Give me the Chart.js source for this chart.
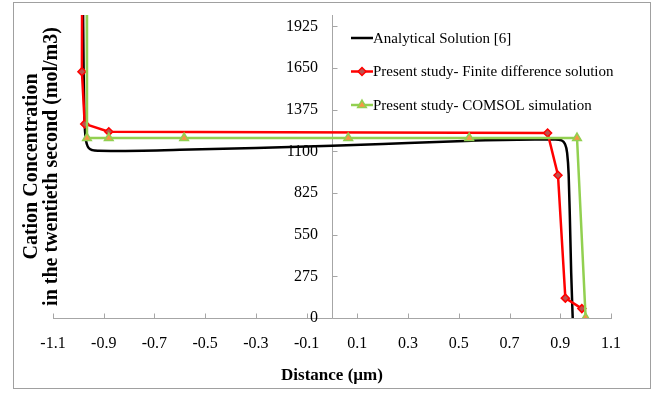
<!DOCTYPE html>
<html>
<head>
<meta charset="utf-8">
<script src="https://cdn.jsdelivr.net/npm/chart.js@4.4.1/dist/chart.umd.min.js"></script>
<style>
  html,body{margin:0;padding:0;background:#fff;}
  #wrap{position:relative;width:654px;height:394px;}
</style>
</head>
<body>
<div id="wrap"><canvas id="chart" width="654" height="394"></canvas></div>
<script>
// Data
const xTicks=[-1.1,-0.9,-0.7,-0.5,-0.3,-0.1,0.1,0.3,0.5,0.7,0.9,1.1];
const yTicks=[0,275,550,825,1100,1375,1650,1925];

const analyticalX=[-0.982,-0.979,-0.976,-0.972,-0.966,-0.958,-0.945,-0.92,-0.85,-0.6,-0.3,0,0.3,0.55,0.8,0.88,0.905,0.918,0.927,0.933,0.938,0.943,0.949];
const analyticalY=[2100,1600,1320,1200,1145,1120,1108,1104,1103,1110,1122,1137,1155,1170,1178,1178,1172,1150,1090,950,650,300,0];

const fdX=[-0.984,-0.986,-0.975,-0.88,0.85,0.891,0.92,0.985];
const fdY=[3000,1626,1281,1229,1221,942,131,62];

const comsolX=[-0.968,-0.966,-0.88,-0.583,0.064,0.541,0.966,1.0];
const comsolY=[3000,1188,1188,1188,1188,1188,1188,0];

const labels=['Analytical Solution [6]','Present study- Finite difference solution','Present study- COMSOL simulation'];

const axisGray='#a6a6a6';
const serif="'Liberation Serif', 'Times New Roman', serif";

const pts=(xs,ys)=>xs.map((x,i)=>({x:x,y:ys[i]}));

Chart.defaults.font.family=serif;
Chart.defaults.color='#000';

// axis line at x=0, inside tick marks, outer frame, legend
const excelBits={
  id:'excelBits',
  beforeDraw(chart){
    const ctx=chart.ctx;
    ctx.save();
    ctx.strokeStyle='#a0a0a0'; ctx.lineWidth=1;
    ctx.strokeRect(13.5,2.5,637,386);
    ctx.restore();
  },
  beforeDatasetsDraw(chart){
    const {ctx,scales:{x,y}}=chart;
    const x0=Math.round(x.getPixelForValue(0))+0.5;
    const yb=Math.round(y.getPixelForValue(0))+0.5;
    ctx.save();
    ctx.strokeStyle=axisGray; ctx.lineWidth=1;
    ctx.beginPath();
    ctx.moveTo(x0,chart.chartArea.top); ctx.lineTo(x0,yb);
    yTicks.forEach(v=>{ const py=Math.round(y.getPixelForValue(v))+0.5; ctx.moveTo(x0,py); ctx.lineTo(x0+5,py); });
    xTicks.forEach(v=>{ const px=Math.round(x.getPixelForValue(v))+0.5; ctx.moveTo(px,yb); ctx.lineTo(px,yb-5); });
    ctx.stroke();
    ctx.restore();
  },
  afterDraw(chart){
    const ctx=chart.ctx;
    const lx=351, ly=38, gap=33.5;
    ctx.save();
    chart.data.datasets.forEach((ds,i)=>{
      const yy=ly+i*gap;
      ctx.strokeStyle=ds.borderColor; ctx.lineWidth=ds.borderWidth;
      ctx.beginPath(); ctx.moveTo(lx,yy); ctx.lineTo(lx+22,yy); ctx.stroke();
      if(ds.pointRadius>0){
        ctx.fillStyle=ds.pointBackgroundColor; ctx.strokeStyle=ds.pointBorderColor; ctx.lineWidth=ds.pointBorderWidth;
        Chart.helpers.drawPoint(ctx,{pointStyle:ds.pointStyle,radius:ds.pointRadius,rotation:0,borderWidth:ds.pointBorderWidth},lx+11,yy);
      }
      ctx.fillStyle='#000'; ctx.font='15px '+serif; ctx.textBaseline='middle'; ctx.textAlign='left';
      ctx.fillText(ds.label,lx+22,yy+1);
    });
    ctx.restore();
  }
};

new Chart(document.getElementById('chart'),{
  type:'scatter',
  data:{datasets:[
    {label:labels[0],data:pts(analyticalX,analyticalY),showLine:true,borderColor:'#000',borderWidth:2.5,pointRadius:0,
     cubicInterpolationMode:'monotone',order:2},
    {label:labels[1],data:pts(fdX,fdY),showLine:true,borderColor:'#ff0000',borderWidth:2.5,
     pointStyle:'rectRot',pointRadius:4,pointBackgroundColor:'#c0504d',pointBorderColor:'#ff0000',pointBorderWidth:1.5,order:1},
    {label:labels[2],data:pts(comsolX,comsolY),showLine:true,borderColor:'#92d050',borderWidth:2.5,
     pointStyle:'triangle',pointRadius:5,pointBackgroundColor:'#f79646',pointBorderColor:'#92d050',pointBorderWidth:1.5,order:0}
  ]},
  options:{
    responsive:false,animation:false,
    layout:{padding:{left:12,right:43,top:15,bottom:8}},
    plugins:{legend:{display:false},tooltip:{enabled:false}},
    scales:{
      x:{type:'linear',position:'bottom',min:-1.1,max:1.1,
        afterBuildTicks:s=>{ s.ticks=xTicks.map(v=>({value:v})); },
        afterFit:s=>{ s.height=68; },
        ticks:{font:{size:16},padding:16,maxRotation:0,callback:v=>String(Math.round(v*10)/10)},
        grid:{display:false,drawTicks:false},border:{display:true,color:axisGray,width:1},
        title:{display:true,text:'Distance (µm)',font:{size:17,weight:'bold'},padding:{top:0,bottom:0}}},
      y:{type:'linear',position:{x:-0.055},min:0,max:2000,
        afterBuildTicks:s=>{ s.ticks=yTicks.map(v=>({value:v})); },
        ticks:{font:{size:16},callback:v=>String(v)},
        grid:{display:false,drawTicks:false},border:{display:false}},
      yt:{type:'linear',position:'left',display:true,
        afterFit:s=>{ s.width=41; },
        ticks:{display:false},grid:{display:false,drawTicks:false},border:{display:false},
        title:{display:true,text:['Cation Concentration','in the twentieth second (mol/m3)'],
          font:{size:20,weight:'bold',lineHeight:1.0},padding:{top:10,bottom:0}}}
    }
  },
  plugins:[excelBits]
});
</script>
</body>
</html>
